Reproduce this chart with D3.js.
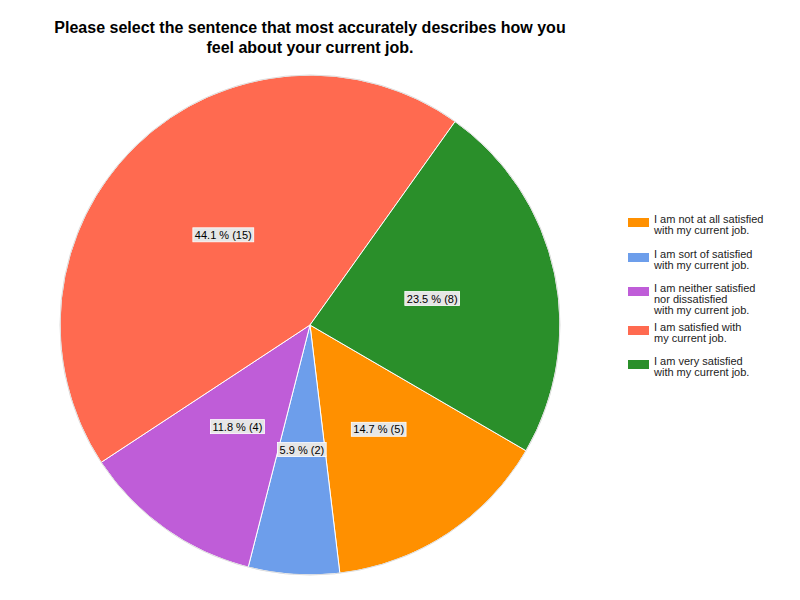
<!DOCTYPE html>
<html><head><meta charset="utf-8">
<script src="https://cdn.jsdelivr.net/npm/d3@7"></script>
<style>body{margin:0;background:#fff}</style></head>
<body><svg id="c" width="800" height="600"></svg>
<script>
const categories = [
  ["I am not at all satisfied","with my current job."],
  ["I am sort of satisfied","with my current job."],
  ["I am neither satisfied","nor dissatisfied","with my current job."],
  ["I am satisfied with","my current job."],
  ["I am very satisfied","with my current job."]
];
const counts = [5, 2, 4, 15, 8];
const colors = ["#ff9000", "#6d9eeb", "#bf5dd8", "#ff6a50", "#2a8f2a"];
const titleLines = ["Please select the sentence that most accurately describes how you","feel about your current job."];

const svg = d3.select("#c");
const font = "Liberation Sans, Arial, sans-serif";
svg.append("g").selectAll("text").data(titleLines).join("text")
  .attr("x", 310).attr("y", (d,i)=>33+i*20).attr("text-anchor","middle")
  .attr("font-family", font).attr("font-weight","bold").attr("font-size",16).text(d=>d);

const cx = 310, cy = 325, r = 250;
const total = d3.sum(counts);
const pie = d3.pie().sort(null).startAngle(120.2*Math.PI/180).endAngle(120.2*Math.PI/180+2*Math.PI);
const arcs = pie(counts);
const arc = d3.arc().innerRadius(0).outerRadius(r);
const g = svg.append("g").attr("transform", `translate(${cx},${cy})`);
g.selectAll("path").data(arcs).join("path").attr("d", arc)
  .attr("fill", (d,i)=>colors[i]).attr("stroke","#fff").attr("stroke-width",1);
// outer thin border
g.append("circle").attr("r", r).attr("fill","none").attr("stroke","#ddd").attr("stroke-width",1);

const labelArc = d3.arc().innerRadius(r*0.5).outerRadius(r*0.5);
arcs.forEach((d,i)=>{
  const [x,y] = labelArc.centroid(d);
  const txt = (100*counts[i]/total).toFixed(1) + " % (" + counts[i] + ")";
  const lg = g.append("g").attr("transform", `translate(${x},${y})`);
  const t = lg.append("text").attr("text-anchor","middle").attr("dy","0.35em")
    .attr("font-family", font).attr("font-size",11).attr("fill","#000").text(txt);
  const b = t.node().getBBox();
  lg.insert("rect","text").attr("x", b.x-2).attr("y", b.y-1).attr("width", b.width+4).attr("height", b.height+2)
    .attr("fill","#e6e6e6").attr("stroke","#fff").attr("stroke-width",0.8);
});

const legY = [214, 249, 283, 322, 356];
const leg = svg.append("g");
categories.forEach((lines,i)=>{
  leg.append("rect").attr("x",628).attr("y",legY[i]+4).attr("width",21).attr("height",9).attr("fill",colors[i]);
  leg.append("g").selectAll("text").data(lines).join("text")
    .attr("x",654).attr("y",(d,j)=>legY[i]+9+j*11)
    .attr("font-family",font).attr("font-size",11).attr("fill","#222").text(d=>d);
});
</script></body></html>
